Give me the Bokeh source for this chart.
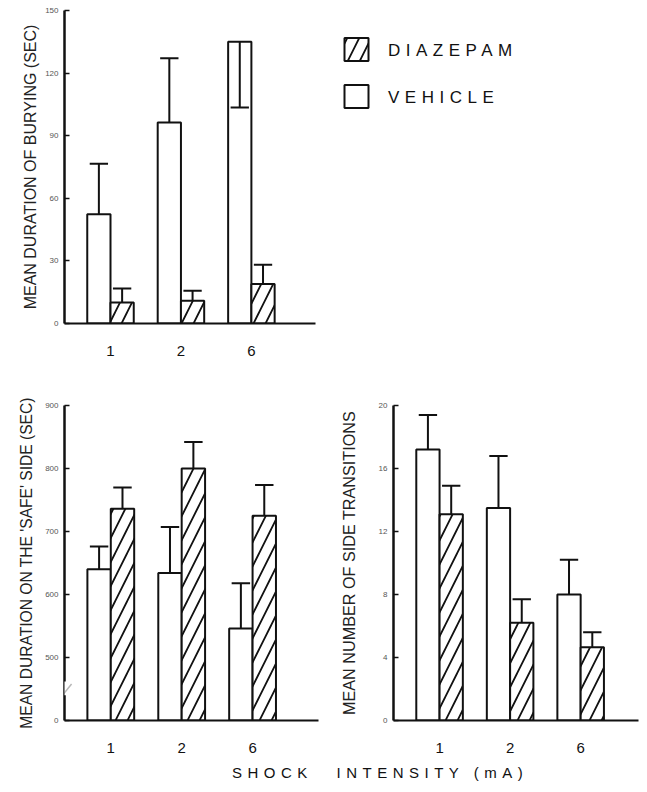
from bokeh.plotting import figure
from bokeh.layouts import row, column
from bokeh.models import Range1d, FixedTicker, Div, Spacer, PolyAnnotation
from bokeh.embed import file_html
from bokeh.resources import INLINE
import numpy as np

# ---------------- data ----------------
shock = ["1", "2", "6"]  # shock intensity (mA)

bury_vehicle = [52.3, 96.3, 135.0]
bury_vehicle_sem = [24.3, 30.8, 31.5]
bury_diazepam = [10.1, 10.9, 18.9]
bury_diazepam_sem = [6.7, 4.8, 9.2]

safe_vehicle = [640, 634, 546]
safe_vehicle_sem = [36, 73, 72]
safe_diazepam = [736, 800, 725]
safe_diazepam_sem = [34, 42, 49]

trans_vehicle = [17.2, 13.5, 8.0]
trans_vehicle_sem = [2.2, 3.3, 2.2]
trans_diazepam = [13.1, 6.2, 4.65]
trans_diazepam_sem = [1.8, 1.5, 0.95]

bury_ticks = [0, 30, 60, 90, 120, 150]
safe_ticks = [400, 500, 600, 700, 800, 900]   # 400 sits at the axis break, labelled "0"
safe_break_label = {400: "0"}
trans_ticks = [0, 4, 8, 12, 16, 20]

FONT = "Liberation Sans"
INK = "#111111"
BAR_W = 0.33
CAP = 0.13
HATCH = dict(hatch_pattern="/", hatch_color=INK, hatch_scale=24, hatch_weight=1.8)


def panel(vehicle, vsem, diaz, dsem, ymin, ymax, ticks, ylabel, width, height,
          left, right, top, bottom, xr, overrides=None, ylabel_standoff=10, ylabel_size="14px"):
    p = figure(width=width, height=height, x_range=Range1d(*xr), y_range=Range1d(ymin, ymax),
               output_backend="svg", toolbar_location=None,
               min_border_left=left, min_border_right=right,
               min_border_top=top, min_border_bottom=bottom)
    p.outline_line_color = None
    p.grid.visible = False
    p.background_fill_color = "white"

    pos = np.arange(1, len(shock) + 1, dtype=float)
    xv = pos - BAR_W / 2
    xd = pos + BAR_W / 2

    p.vbar(x=xv, top=vehicle, bottom=ymin, width=BAR_W, fill_color="white",
           line_color=INK, line_width=2)
    p.vbar(x=xd, top=diaz, bottom=ymin, width=BAR_W, fill_color="white",
           line_color=INK, line_width=2, **HATCH)

    # error bars: upward, unless bar + SEM would leave the axis (then drawn inside the bar)
    for xs, m, s in ((xv, vehicle, vsem), (xd, diaz, dsem)):
        m = np.asarray(m, float)
        s = np.asarray(s, float)
        end = np.where(m + s > ymax, m - s, m + s)
        p.segment(x0=xs, y0=m, x1=xs, y1=end, line_color=INK, line_width=2)
        p.segment(x0=xs - CAP, y0=end, x1=xs + CAP, y1=end, line_color=INK, line_width=2)

    ya = p.yaxis[0]
    ya.ticker = FixedTicker(ticks=ticks)
    if overrides:
        ya.major_label_overrides = overrides
    ya.axis_line_width = 2.5
    ya.axis_line_color = INK
    ya.major_tick_in = 5
    ya.major_tick_out = 0
    ya.major_tick_line_width = 1.5
    ya.major_tick_line_color = INK
    ya.minor_tick_line_color = None
    ya.major_label_text_font = FONT
    ya.major_label_text_font_size = "8px"
    ya.major_label_text_color = "#555555"
    ya.major_label_standoff = 6
    ya.axis_label = ylabel
    ya.axis_label_text_font = FONT
    ya.axis_label_text_font_size = ylabel_size
    ya.axis_label_text_font_style = "normal"
    ya.axis_label_text_color = "#222222"
    ya.axis_label_standoff = ylabel_standoff

    xa = p.xaxis[0]
    xa.ticker = FixedTicker(ticks=list(pos))
    xa.major_label_overrides = {float(k): lab for k, lab in zip(pos, shock)}
    xa.major_label_overrides.update({int(k): lab for k, lab in zip(pos, shock)})
    xa.axis_line_width = 2
    xa.axis_line_color = INK
    xa.major_tick_in = 0
    xa.major_tick_out = 0
    xa.minor_tick_line_color = None
    xa.major_tick_line_color = None
    xa.major_label_text_font = FONT
    xa.major_label_text_font_size = "15px"
    xa.major_label_text_color = INK
    xa.major_label_standoff = 22
    return p


top = panel(bury_vehicle, bury_vehicle_sem, bury_diazepam, bury_diazepam_sem,
            0, 150, bury_ticks, "MEAN DURATION OF BURYING (SEC)",
            width=330, height=385, left=64, right=15, top=10, bottom=62,
            xr=(0.347, 3.91), ylabel_standoff=3, ylabel_size="16px")

bl = panel(safe_vehicle, safe_vehicle_sem, safe_diazepam, safe_diazepam_sem,
           400, 900, safe_ticks, "MEAN DURATION ON THE 'SAFE' SIDE (SEC)",
           width=330, height=373, left=64, right=12, top=20, bottom=38,
           xr=(0.347, 3.93), overrides=safe_break_label, ylabel_standoff=7,
           ylabel_size="15.6px")

# axis break mark on the lower-left y axis
x0 = 0.347
bl.add_layout(PolyAnnotation(xs=[x0 - 0.035, x0 + 0.035, x0 + 0.035, x0 - 0.035],
                             ys=[440, 440, 462, 462], fill_color="white", fill_alpha=1,
                             line_color=None))
bl.add_layout(PolyAnnotation(xs=[x0 - 0.05, x0 + 0.1], ys=[437, 458], fill_color=None,
                             fill_alpha=0, line_color=INK, line_width=1.5))

br = panel(trans_vehicle, trans_vehicle_sem, trans_diazepam, trans_diazepam_sem,
           0, 20, trans_ticks, "MEAN NUMBER OF SIDE TRANSITIONS",
           width=317, height=373, left=63, right=9, top=20, bottom=38,
           xr=(0.347, 3.82), ylabel_standoff=18, ylabel_size="16.2px")


def swatch(hatched):
    s = figure(width=58, height=30, x_range=Range1d(0, 58), y_range=Range1d(0, 30),
               output_backend="svg", toolbar_location=None, min_border=0)
    s.axis.visible = False
    s.grid.visible = False
    s.outline_line_color = None
    kw = HATCH if hatched else {}
    s.rect(x=[26], y=[15], width=24, height=23, fill_color="white", line_color=INK,
           line_width=2, **kw)
    return s


def legend_text(t):
    return Div(text=t, width=200, height=30, margin=0,
               styles={"font-family": FONT, "font-size": "17px", "letter-spacing": "5.5px",
                       "line-height": "30px", "padding-top": "2px", "color": INK})


legend = column(Spacer(height=34),
                row(swatch(True), legend_text("DIAZEPAM")),
                Spacer(height=17),
                row(swatch(False), legend_text("VEHICLE")))

xlabel = Div(text="<span style='margin-right:14px'>SHOCK</span> INTENSITY (mA)",
             width=400, height=30, margin=(0, 0, 0, 232),
             styles={"font-family": FONT, "font-size": "15px", "letter-spacing": "5.5px",
                     "line-height": "30px", "color": INK, "white-space": "nowrap"})

layout = column(row(top, legend), row(bl, br), xlabel)

open("out.html", "w").write(file_html(layout, INLINE))
